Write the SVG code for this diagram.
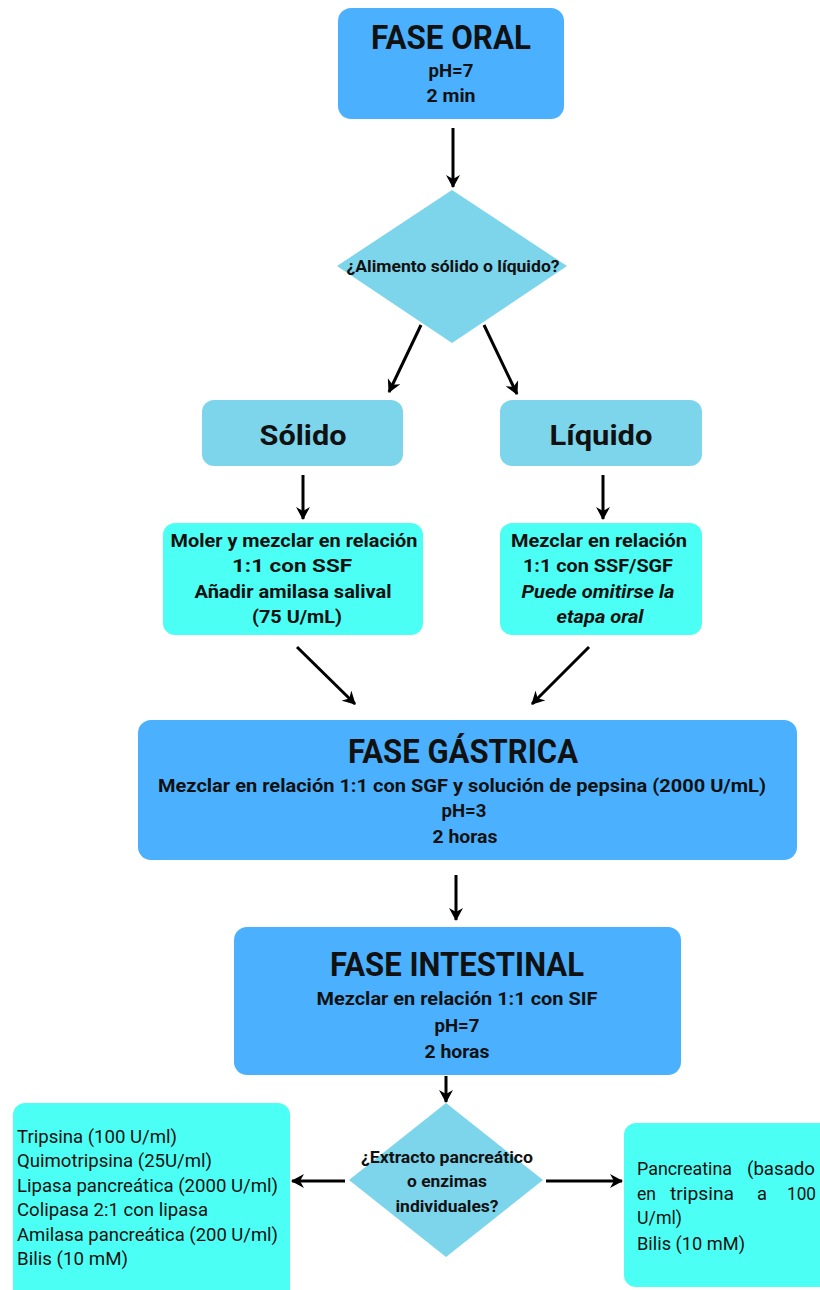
<svg xmlns="http://www.w3.org/2000/svg" width="820" height="1290" viewBox="0 0 820 1290">
<defs>
<marker id="ah" markerWidth="14" markerHeight="14" refX="12" refY="7" orient="auto" markerUnits="userSpaceOnUse">
<path d="M0,0 L13,7 L0,14 L4,7 Z" fill="#000"/>
</marker>
<style>
.dk{fill:#4BB1FF}
.lt{fill:#7DD5EC}
.cy{fill:#4CFFF4}
text{font-family:Roboto,"Liberation Sans",sans-serif;fill:#111}
.t{font-weight:bold;text-anchor:middle;font-size:34px}
.b{font-weight:bold;text-anchor:middle;font-size:18px}
.h{font-weight:bold;text-anchor:middle;font-size:28px}
.d{font-weight:bold;text-anchor:middle;font-size:16px}
.i{font-style:italic}
.r{font-size:18px}
.c line{stroke:#000;stroke-width:3;marker-end:url(#ah)}
</style>
</defs>
<rect width="820" height="1290" fill="#fff"/>

<g id="oral">
<rect class="dk" x="338" y="8" width="226" height="111" rx="13"/>
<text class="t" x="451" y="49" textLength="160" lengthAdjust="spacingAndGlyphs">FASE ORAL</text>
<text class="b" x="451" y="77" textLength="45" lengthAdjust="spacingAndGlyphs">pH=7</text>
<text class="b" x="451" y="102" textLength="49" lengthAdjust="spacingAndGlyphs">2 min</text>
</g>

<g id="q1">
<polygon class="lt" points="452,190 567,266 452,343 337,266"/>
<text class="d" x="453" y="272" textLength="213" lengthAdjust="spacingAndGlyphs">¿Alimento sólido o líquido?</text>
</g>

<g id="solido">
<rect class="lt" x="202" y="400" width="201" height="66" rx="12"/>
<text class="h" x="303" y="445" textLength="87" lengthAdjust="spacingAndGlyphs">Sólido</text>
</g>

<g id="liquido">
<rect class="lt" x="500" y="400" width="202" height="66" rx="12"/>
<text class="h" x="601" y="445" textLength="103" lengthAdjust="spacingAndGlyphs">Líquido</text>
</g>

<g id="moler">
<rect class="cy" x="163" y="523" width="260" height="112" rx="12"/>
<text class="b" x="294" y="547" textLength="247" lengthAdjust="spacingAndGlyphs">Moler y mezclar en relación</text>
<text class="b" x="292" y="572" textLength="120" lengthAdjust="spacingAndGlyphs">1:1 con SSF</text>
<text class="b" x="293" y="598" textLength="197" lengthAdjust="spacingAndGlyphs">Añadir amilasa salival</text>
<text class="b" x="297" y="623" textLength="90" lengthAdjust="spacingAndGlyphs">(75 U/mL)</text>
</g>

<g id="mezclar">
<rect class="cy" x="500" y="523" width="202" height="112" rx="12"/>
<text class="b" x="599" y="547" textLength="176" lengthAdjust="spacingAndGlyphs">Mezclar en relación</text>
<text class="b" x="598" y="572" textLength="150" lengthAdjust="spacingAndGlyphs">1:1 con SSF/SGF</text>
<text class="b i" x="598" y="598" textLength="153" lengthAdjust="spacingAndGlyphs">Puede omitirse la</text>
<text class="b i" x="600" y="623" textLength="87" lengthAdjust="spacingAndGlyphs">etapa oral</text>
</g>

<g id="gastrica">
<rect class="dk" x="138" y="720" width="659" height="140" rx="13"/>
<text class="t" x="463" y="763" textLength="230" lengthAdjust="spacingAndGlyphs">FASE GÁSTRICA</text>
<text class="b" x="462" y="792" textLength="608" lengthAdjust="spacingAndGlyphs">Mezclar en relación 1:1 con SGF y solución de pepsina (2000 U/mL)</text>
<text class="b" x="464" y="817" textLength="45" lengthAdjust="spacingAndGlyphs">pH=3</text>
<text class="b" x="465" y="843" textLength="65" lengthAdjust="spacingAndGlyphs">2 horas</text>
</g>

<g id="intestinal">
<rect class="dk" x="234" y="927" width="447" height="148" rx="13"/>
<text class="t" x="457" y="976" textLength="254" lengthAdjust="spacingAndGlyphs">FASE INTESTINAL</text>
<text class="b" x="457" y="1005" textLength="281" lengthAdjust="spacingAndGlyphs">Mezclar en relación 1:1 con SIF</text>
<text class="b" x="457" y="1032" textLength="45" lengthAdjust="spacingAndGlyphs">pH=7</text>
<text class="b" x="457" y="1058" textLength="65" lengthAdjust="spacingAndGlyphs">2 horas</text>
</g>

<g id="q2">
<polygon class="lt" points="446,1103 543,1180 446,1257 349,1180"/>
<text class="d" x="447" y="1163" textLength="172" lengthAdjust="spacingAndGlyphs">¿Extracto pancreático</text>
<text class="d" x="447" y="1187" textLength="80" lengthAdjust="spacingAndGlyphs">o enzimas</text>
<text class="d" x="447" y="1212" textLength="103" lengthAdjust="spacingAndGlyphs">individuales?</text>
</g>

<g id="enzimas">
<rect class="cy" x="13" y="1103" width="277" height="200" rx="12"/>
<text class="r" x="17" y="1143" textLength="160" lengthAdjust="spacingAndGlyphs">Tripsina (100 U/ml)</text>
<text class="r" x="17" y="1167" textLength="195" lengthAdjust="spacingAndGlyphs">Quimotripsina (25U/ml)</text>
<text class="r" x="17" y="1192" textLength="261" lengthAdjust="spacingAndGlyphs">Lipasa pancreática (2000 U/ml)</text>
<text class="r" x="17" y="1216" textLength="191" lengthAdjust="spacingAndGlyphs">Colipasa 2:1 con lipasa</text>
<text class="r" x="17" y="1241" textLength="261" lengthAdjust="spacingAndGlyphs">Amilasa pancreática (200 U/ml)</text>
<text class="r" x="17" y="1265" textLength="111" lengthAdjust="spacingAndGlyphs">Bilis (10 mM)</text>
</g>

<g id="pancreatina">
<rect class="cy" x="624" y="1123" width="210" height="164" rx="12"/>
<text class="r" x="637" y="1175" textLength="95" lengthAdjust="spacingAndGlyphs">Pancreatina</text>
<text class="r" x="747" y="1175" textLength="68" lengthAdjust="spacingAndGlyphs">(basado</text>
<text class="r" x="637" y="1200" textLength="19" lengthAdjust="spacingAndGlyphs">en</text>
<text class="r" x="670" y="1200" textLength="64" lengthAdjust="spacingAndGlyphs">tripsina</text>
<text class="r" x="757" y="1200" textLength="10" lengthAdjust="spacingAndGlyphs">a</text>
<text class="r" x="787" y="1200" textLength="29" lengthAdjust="spacingAndGlyphs">100</text>
<text class="r" x="637" y="1224" textLength="45" lengthAdjust="spacingAndGlyphs">U/ml)</text>
<text class="r" x="637" y="1250" textLength="108" lengthAdjust="spacingAndGlyphs">Bilis (10 mM)</text>
</g>

<g id="connectors" class="c">
<line x1="453" y1="128" x2="453" y2="187"/>
<line x1="421" y1="325" x2="389" y2="392"/>
<line x1="484" y1="325" x2="517" y2="394"/>
<line x1="303" y1="475" x2="303" y2="519"/>
<line x1="603" y1="475" x2="603" y2="519"/>
<line x1="297" y1="647" x2="355" y2="704"/>
<line x1="589" y1="647" x2="532" y2="704"/>
<line x1="456" y1="875" x2="456" y2="920"/>
<line x1="446" y1="1076" x2="446" y2="1102"/>
<line x1="345" y1="1181" x2="292" y2="1181"/>
<line x1="546" y1="1181" x2="622" y2="1181"/>
</g>
</svg>
